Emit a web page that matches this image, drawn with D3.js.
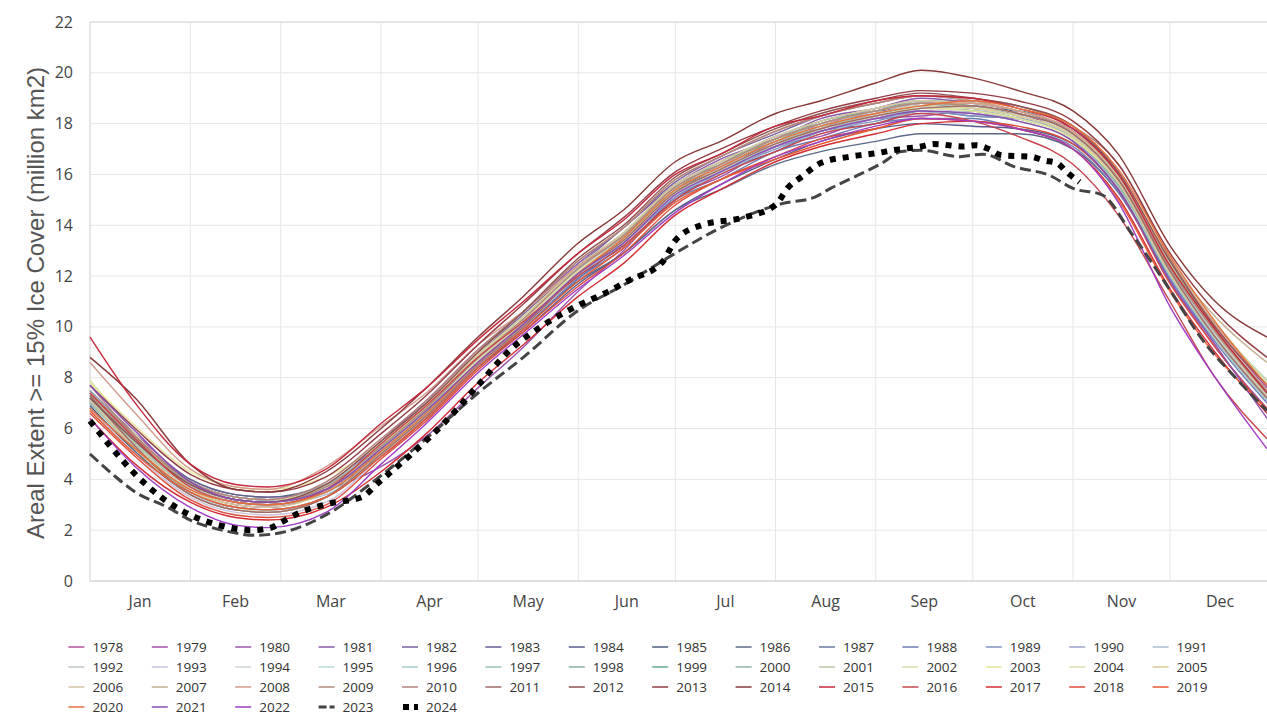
<!DOCTYPE html>
<html>
<head>
<meta charset="utf-8">
<script src="https://cdn.jsdelivr.net/npm/d3@7"></script>
<style>
  body { margin: 0; background: #fff; }
  #DataViz { width: 1267px; height: 717px; }
</style>
</head>
<body>
<div id="DataViz"></div>
<script>
// day-of-year sample points used for 1978-2022
const days = [1, 15, 32, 46, 56, 74, 91, 105, 121, 135, 152, 166, 182, 196, 213, 227, 244, 258, 274, 288, 305, 319, 335, 349, 365];

const y1978 = [7.4, 5.6, 3.9, 3.3, 3.2, 3.6, 4.9, 6.4, 8.4, 9.9, 12.0, 13.5, 15.6, 16.3, 17.5, 17.9, 18.6, 18.8, 18.9, 18.4, 17.8, 16.0, 12.6, 10.0, 7.6];
const y1979 = [7.1, 5.5, 3.8, 3.2, 3.1, 3.7, 5.2, 6.7, 8.7, 10.3, 12.2, 13.4, 15.2, 16.4, 17.2, 18.0, 18.4, 18.8, 18.6, 18.4, 17.4, 15.6, 12.2, 9.8, 7.4];
const y1980 = [7.5, 5.8, 4.0, 3.4, 3.3, 3.6, 4.5, 5.7, 7.6, 9.2, 11.4, 13.0, 15.1, 15.9, 17.1, 17.5, 18.2, 18.3, 18.5, 18.2, 17.5, 15.5, 11.8, 9.2, 6.8];
const y1981 = [6.8, 5.2, 3.6, 3.0, 2.9, 3.6, 5.5, 7.1, 9.1, 10.6, 12.5, 13.9, 15.6, 16.6, 17.4, 18.2, 18.6, 19.0, 18.8, 18.5, 17.6, 15.9, 12.3, 9.6, 7.1];
const y1982 = [7.0, 5.5, 3.9, 3.3, 3.2, 3.8, 5.3, 6.8, 8.9, 10.5, 12.4, 13.9, 15.7, 16.7, 17.6, 18.3, 18.8, 19.1, 18.9, 18.7, 17.8, 16.1, 12.5, 9.9, 7.5];
const y1983 = [7.2, 5.4, 3.7, 3.1, 3.0, 3.5, 5.0, 6.5, 8.5, 10.0, 11.9, 13.3, 15.4, 16.2, 17.3, 17.8, 18.5, 18.6, 18.7, 18.3, 17.5, 15.7, 12.2, 9.6, 7.2];
const y1984 = [7.2, 5.3, 3.5, 2.9, 2.8, 3.3, 4.9, 6.4, 8.4, 9.8, 11.7, 12.9, 14.6, 15.6, 16.6, 17.3, 17.8, 18.0, 17.9, 17.8, 17.2, 15.4, 12.0, 9.5, 7.1];
const y1985 = [6.9, 5.1, 3.4, 2.8, 2.7, 3.3, 5.2, 6.7, 8.7, 10.2, 12.2, 13.5, 15.3, 16.3, 17.1, 17.9, 18.3, 18.7, 18.6, 18.5, 17.6, 15.8, 12.3, 9.7, 7.3];
const y1986 = [7.2, 5.6, 4.0, 3.4, 3.3, 3.8, 5.3, 6.7, 8.6, 10.0, 11.8, 12.9, 14.6, 15.4, 16.4, 16.9, 17.3, 17.6, 17.6, 17.6, 17.0, 15.3, 12.0, 9.6, 7.2];
const y1987 = [7.3, 5.6, 3.9, 3.3, 3.2, 3.7, 5.1, 6.6, 8.6, 10.1, 12.0, 13.2, 15.0, 16.1, 16.9, 17.7, 18.0, 18.5, 18.3, 18.2, 17.4, 15.6, 12.3, 9.8, 7.4];
const y1988 = [7.2, 5.4, 3.7, 3.1, 3.0, 3.5, 5.0, 6.4, 8.5, 9.9, 11.9, 13.1, 15.0, 15.8, 16.9, 17.4, 18.0, 18.2, 18.2, 17.8, 17.1, 15.3, 11.9, 9.4, 7.0];
const y1989 = [7.0, 5.4, 3.8, 3.2, 3.1, 3.6, 5.1, 6.6, 8.6, 10.0, 12.0, 13.3, 15.1, 16.1, 17.0, 17.7, 18.1, 18.5, 18.3, 18.2, 17.5, 15.7, 12.1, 9.6, 7.2];
const y1990 = [7.2, 5.5, 3.8, 3.2, 3.1, 3.7, 5.3, 6.8, 8.8, 10.3, 12.2, 13.5, 15.4, 16.3, 17.3, 17.8, 18.4, 18.6, 18.6, 18.3, 17.4, 15.6, 12.2, 9.7, 7.3];
const y1991 = [7.1, 5.4, 3.7, 3.1, 3.0, 3.4, 5.0, 6.5, 8.5, 10.0, 12.0, 13.3, 15.2, 16.0, 17.1, 17.6, 18.2, 18.4, 18.5, 18.2, 17.5, 15.8, 12.4, 9.8, 7.4];
const y1992 = [7.3, 5.4, 3.5, 2.9, 2.8, 3.3, 5.1, 6.6, 8.6, 10.1, 12.2, 13.6, 15.5, 16.3, 17.4, 17.9, 18.5, 18.7, 18.6, 18.3, 17.5, 15.7, 12.1, 9.5, 7.1];
const y1993 = [6.8, 5.0, 3.3, 2.7, 2.6, 3.1, 4.9, 6.5, 8.5, 10.0, 12.1, 13.4, 15.2, 16.3, 17.1, 17.8, 18.2, 18.6, 18.4, 18.2, 17.4, 15.6, 12.1, 9.6, 7.2];
const y1994 = [7.2, 5.5, 3.8, 3.2, 3.1, 3.7, 5.3, 6.8, 8.8, 10.3, 12.3, 13.6, 15.5, 16.4, 17.4, 18.0, 18.5, 18.8, 18.7, 18.4, 17.6, 15.8, 12.3, 9.7, 7.3];
const y1995 = [7.1, 5.4, 3.7, 3.1, 3.0, 3.6, 5.4, 6.9, 8.9, 10.4, 12.3, 13.6, 15.6, 16.4, 17.5, 18.0, 18.6, 18.8, 18.6, 18.3, 17.5, 15.7, 12.2, 9.6, 7.2];
const y1996 = [7.1, 5.5, 3.9, 3.3, 3.2, 3.8, 5.3, 6.7, 8.7, 10.2, 12.1, 13.4, 15.3, 16.1, 17.2, 17.7, 18.3, 18.5, 18.4, 18.1, 17.3, 15.5, 12.0, 9.5, 7.1];
const y1997 = [7.0, 5.2, 3.5, 2.9, 2.8, 3.3, 5.0, 6.6, 8.6, 10.1, 12.1, 13.4, 15.3, 16.2, 17.2, 17.9, 18.3, 18.7, 18.5, 18.2, 17.4, 15.6, 12.1, 9.6, 7.2];
const y1998 = [7.2, 5.5, 3.8, 3.2, 3.1, 3.7, 5.3, 6.8, 8.8, 10.3, 12.4, 13.7, 15.6, 16.5, 17.5, 18.1, 18.6, 18.9, 18.7, 18.4, 17.6, 15.8, 12.3, 9.8, 7.4];
const y1999 = [7.4, 5.6, 3.9, 3.3, 3.2, 3.7, 5.2, 6.7, 8.7, 10.2, 12.3, 13.6, 15.4, 16.5, 17.3, 18.1, 18.5, 18.9, 18.8, 18.5, 17.7, 16.0, 12.5, 9.9, 7.5];
const y2000 = [7.5, 5.7, 3.9, 3.3, 3.2, 3.7, 5.2, 6.7, 8.7, 10.2, 12.3, 13.6, 15.5, 16.4, 17.4, 18.0, 18.5, 18.8, 18.5, 18.2, 17.4, 15.6, 12.1, 9.6, 7.2];
const y2001 = [7.1, 5.4, 3.7, 3.1, 3.0, 3.5, 5.1, 6.6, 8.6, 10.1, 12.1, 13.4, 15.3, 16.2, 17.2, 17.8, 18.3, 18.6, 18.6, 18.4, 17.6, 15.9, 12.5, 10.1, 7.9];
const y2002 = [7.9, 5.8, 3.6, 2.9, 2.7, 3.3, 5.0, 6.5, 8.5, 10.0, 12.1, 13.4, 15.3, 16.2, 17.2, 17.8, 18.3, 18.6, 18.6, 18.4, 17.6, 16.0, 12.7, 10.2, 7.8];
const y2003 = [7.8, 6.1, 4.3, 3.7, 3.6, 4.1, 5.4, 6.9, 8.9, 10.3, 12.2, 13.4, 15.3, 16.2, 17.2, 17.8, 18.3, 18.6, 18.5, 18.2, 17.4, 15.7, 12.4, 9.9, 7.5];
const y2004 = [7.4, 5.7, 3.9, 3.3, 3.2, 3.7, 5.2, 6.7, 8.7, 10.2, 12.2, 13.5, 15.4, 16.3, 17.3, 17.9, 18.4, 18.7, 18.6, 18.3, 17.5, 15.7, 12.1, 9.6, 7.2];
const y2005 = [7.1, 5.3, 3.6, 3.0, 2.9, 3.5, 5.4, 6.9, 8.9, 10.4, 12.4, 13.7, 15.6, 16.5, 17.5, 18.1, 18.6, 18.9, 18.6, 18.3, 17.5, 15.7, 12.1, 9.6, 7.2];
const y2006 = [7.1, 5.2, 3.4, 2.8, 2.7, 3.3, 5.3, 6.8, 8.8, 10.3, 12.4, 13.7, 15.6, 16.5, 17.5, 18.1, 18.6, 18.9, 18.8, 18.5, 17.7, 15.9, 12.4, 9.8, 7.3];
const y2007 = [7.3, 5.6, 3.8, 3.2, 3.1, 3.8, 5.5, 7.0, 9.0, 10.6, 12.6, 13.9, 15.8, 16.7, 17.7, 18.3, 18.8, 19.1, 18.9, 18.5, 17.7, 16.0, 12.6, 10.4, 8.6];
const y2008 = [8.6, 6.6, 4.4, 3.7, 3.6, 4.5, 6.1, 7.4, 9.3, 10.6, 12.4, 13.6, 15.5, 16.4, 17.4, 18.0, 18.5, 18.8, 18.8, 18.5, 17.7, 16.0, 12.6, 10.1, 7.7];
const y2009 = [7.7, 5.7, 3.9, 3.2, 3.1, 3.7, 5.3, 6.8, 8.8, 10.3, 12.3, 13.6, 15.5, 16.4, 17.4, 18.0, 18.5, 18.8, 18.7, 18.4, 17.6, 15.8, 12.3, 9.8, 7.4];
const y2010 = [7.4, 5.7, 3.9, 3.3, 3.2, 3.9, 5.6, 7.1, 9.1, 10.6, 12.6, 13.9, 15.8, 16.7, 17.7, 18.3, 18.8, 19.1, 19.0, 18.7, 17.9, 16.4, 12.7, 9.9, 7.5];
const y2011 = [7.3, 5.3, 3.4, 2.8, 2.7, 3.3, 5.0, 6.5, 8.5, 10.0, 12.1, 13.4, 15.3, 16.2, 17.2, 17.8, 18.3, 18.6, 18.7, 18.4, 17.6, 15.8, 12.2, 9.6, 7.2];
const y2012 = [7.2, 5.5, 3.8, 3.2, 3.1, 3.8, 5.5, 7.0, 9.0, 10.6, 12.7, 14.0, 15.9, 16.8, 17.8, 18.4, 18.9, 19.2, 19.0, 18.7, 17.9, 16.1, 12.6, 10.0, 7.7];
const y2013 = [7.7, 6.0, 4.2, 3.6, 3.5, 4.1, 5.8, 7.3, 9.3, 10.9, 12.9, 14.3, 16.1, 17.0, 17.9, 18.5, 19.0, 19.3, 19.2, 18.9, 18.1, 16.4, 12.9, 10.6, 8.8];
const y2014 = [8.8, 7.2, 4.6, 3.6, 3.5, 4.3, 6.0, 7.6, 9.6, 11.2, 13.3, 14.6, 16.5, 17.3, 18.4, 18.9, 19.6, 20.1, 19.8, 19.3, 18.5, 16.8, 13.2, 11.0, 9.6];
const y2015 = [9.6, 7.0, 4.6, 3.8, 3.7, 4.4, 6.2, 7.6, 9.5, 11.0, 12.9, 14.2, 16.0, 16.8, 17.9, 18.3, 18.9, 19.1, 19.0, 18.6, 17.8, 16.0, 12.4, 9.9, 7.4];
const y2016 = [7.4, 5.6, 3.7, 3.1, 3.0, 3.6, 5.4, 6.9, 8.8, 10.2, 12.0, 13.2, 15.0, 16.0, 16.9, 17.6, 18.0, 18.4, 18.1, 17.5, 16.4, 14.4, 11.0, 8.0, 5.6];
const y2017 = [6.4, 4.6, 3.1, 2.5, 2.4, 2.9, 4.3, 5.8, 7.8, 9.3, 11.2, 12.5, 14.4, 15.4, 16.5, 17.1, 17.6, 18.0, 18.1, 17.8, 17.0, 15.1, 11.5, 9.0, 6.6];
const y2018 = [6.6, 4.9, 3.2, 2.6, 2.5, 3.0, 4.8, 6.3, 8.3, 9.8, 11.6, 12.9, 14.8, 15.8, 16.7, 17.4, 17.8, 18.2, 18.1, 17.9, 17.2, 15.4, 11.7, 9.2, 6.7];
const y2019 = [6.7, 5.0, 3.5, 2.9, 2.8, 3.3, 4.9, 6.4, 8.4, 9.9, 11.8, 13.1, 14.9, 15.8, 16.6, 17.2, 17.8, 18.2, 18.1, 17.8, 17.0, 15.0, 11.4, 8.9, 6.8];
const y2020 = [6.8, 5.2, 3.6, 3.1, 3.0, 3.5, 5.1, 6.6, 8.6, 10.1, 12.1, 13.5, 15.4, 16.3, 17.3, 17.9, 18.4, 18.7, 18.9, 18.6, 17.9, 16.2, 12.8, 10.2, 7.7];
const y2021 = [7.7, 5.9, 3.9, 3.2, 3.1, 3.6, 5.2, 6.7, 8.6, 10.1, 12.1, 13.3, 15.2, 16.1, 17.1, 17.7, 18.2, 18.5, 18.4, 18.1, 17.3, 15.4, 11.8, 9.3, 6.4];
const y2022 = [6.4, 4.5, 2.9, 2.2, 2.1, 2.7, 4.6, 6.2, 8.2, 9.7, 11.5, 12.8, 14.5, 15.6, 16.7, 17.3, 17.9, 18.2, 18.1, 17.8, 17.0, 14.9, 10.8, 8.0, 5.2];

// 2023 and 2024 read more densely
const days2023 = [1, 8, 15, 25, 32, 42, 52, 60, 74, 90, 104, 121, 135, 152, 166, 182, 196, 215, 225, 230, 239, 246, 252, 258, 270, 277, 287, 298, 305, 314, 323, 335, 345, 356, 365];
const y2023 = [5.0, 4.2, 3.5, 2.9, 2.4, 2.0, 1.8, 1.9, 2.6, 4.05, 5.5, 7.4, 8.8, 10.65, 11.65, 12.9, 13.9, 14.85, 15.1, 15.45, 16.0, 16.45, 16.9, 16.95, 16.7, 16.8, 16.3, 15.95, 15.45, 15.2, 13.7, 11.45, 9.5, 7.9, 6.7];
const days2024 = [1, 7, 15, 23, 32, 41, 51, 57, 60, 66, 75, 85, 90, 100, 110, 121, 131, 141, 152, 159, 168, 178, 182, 190, 203, 213, 217, 221, 227, 236, 245, 249, 258, 262, 271, 275, 279, 283, 292, 296, 300, 303, 307];
const y2024 = [6.3, 5.35, 4.2, 3.3, 2.6, 2.2, 2.0, 2.1, 2.3, 2.7, 3.05, 3.3, 3.85, 4.95, 6.15, 7.7, 9.1, 10.05, 10.85, 11.25, 11.85, 12.55, 13.4, 14.0, 14.3, 14.8, 15.5, 15.9, 16.45, 16.7, 16.85, 16.95, 17.1, 17.2, 17.1, 17.15, 17.0, 16.75, 16.7, 16.55, 16.45, 16.1, 15.7];

const years = d3.range(1978, 2025);
const yearColors = [
  "#b8509e", "#a64fa6", "#9c55b0", "#8a58aa", "#78609e", "#685c96", "#585a8c", "#4c5e7e",
  "#5c6a88", "#6a7aa0", "#6a7cb4", "#7e94bc", "#9ca2cc", "#a8bcd4", "#bcc4cc", "#cac2da",
  "#cad4d4", "#b8dada", "#a6cccc", "#94c2b8", "#86b2a0", "#68aa90", "#98b2a8", "#b8caa8",
  "#d6deaa", "#e6e698", "#e0dcb0", "#d8cc98", "#d2c6a4", "#c2ae8c", "#d49c8c", "#b08c7a",
  "#b4827a", "#a06a6a", "#8e5252", "#943c44", "#883838", "#c4283c", "#c8444c", "#d42c34",
  "#dc4c3c", "#e45834", "#e4703c", "#8a4eb0", "#a03cc4", "#444444", "#000000"
];
const monthNames = ["Jan", "Feb", "Mar", "Apr", "May", "Jun", "Jul", "Aug", "Sep", "Oct", "Nov", "Dec"];
const monthStarts = [1, 32, 60, 91, 121, 152, 182, 213, 244, 274, 305, 335, 366];
const yTicks = [0, 2, 4, 6, 8, 10, 12, 14, 16, 18, 20, 22];

const seriesValues = [y1978, y1979, y1980, y1981, y1982, y1983, y1984, y1985, y1986, y1987, y1988,
  y1989, y1990, y1991, y1992, y1993, y1994, y1995, y1996, y1997, y1998, y1999, y2000, y2001,
  y2002, y2003, y2004, y2005, y2006, y2007, y2008, y2009, y2010, y2011, y2012, y2013, y2014,
  y2015, y2016, y2017, y2018, y2019, y2020, y2021, y2022, y2023, y2024];

let series = years.map(function(yr, i) {
  let dd = days;
  if (yr === 2023) dd = days2023;
  if (yr === 2024) dd = days2024;
  return {
    year: yr,
    color: yearColors[i],
    points: seriesValues[i].map(function(v, j) { return {day: dd[j], val: v}; })
  };
});

var margin = {top: 22, right: 0, bottom: 136, left: 90},
    width = 1267 - margin.left - margin.right,
    height = 717 - margin.top - margin.bottom;

var root = d3.select("#DataViz")
  .append("svg")
    .attr("width", 1267)
    .attr("height", 717);
var svg = root.append("g")
    .attr("transform", "translate(" + margin.left + "," + margin.top + ")");

let x = d3.scaleLinear().domain([1, 365]).range([0, width]);
let y = d3.scaleLinear().domain([0, 22]).range([height, 0]);

// grid
svg.append("g")
  .selectAll("line")
  .data(yTicks)
  .enter().append("line")
    .attr("x1", 0).attr("x2", width)
    .attr("y1", d => y(d)).attr("y2", d => y(d))
    .attr("stroke", d => d === 22 ? "#cccccc" : "#e6e6e6")
    .attr("stroke-width", 1);
svg.append("g")
  .selectAll("line")
  .data(monthStarts.slice(0, 12))
  .enter().append("line")
    .attr("x1", d => x(d)).attr("x2", d => x(d))
    .attr("y1", 0).attr("y2", height)
    .attr("stroke", (d, i) => i === 0 ? "#cccccc" : "#e6e6e6")
    .attr("stroke-width", 1);
svg.append("line")
  .attr("x1", 0).attr("x2", width)
  .attr("y1", height).attr("y2", height)
  .attr("stroke", "#cccccc");

// y tick labels
svg.append("g")
  .selectAll("text")
  .data(yTicks)
  .enter().append("text")
    .attr("x", -17)
    .attr("y", d => y(d) + 5.5)
    .attr("text-anchor", "end")
    .style("font-family", "'Open Sans', sans-serif")
    .style("font-size", "16px")
    .style("fill", "#444")
    .text(d => d);

// month labels
svg.append("g")
  .selectAll("text")
  .data(monthNames)
  .enter().append("text")
    .attr("x", (d, i) => (x(monthStarts[i]) + x(monthStarts[i + 1])) / 2)
    .attr("y", height + 26)
    .attr("text-anchor", "middle")
    .style("font-family", "'Open Sans', sans-serif")
    .style("font-size", "16px")
    .style("fill", "#444")
    .text(d => d);

// y axis title
root.append("text")
  .attr("transform", "rotate(-90)")
  .attr("x", -303)
  .attr("y", 44)
  .style("text-anchor", "middle")
  .style("font-family", "'Liberation Sans', Arial, sans-serif")
  .style("font-size", "24px")
  .style("fill", "#555")
  .text("Areal Extent >= 15% Ice Cover (million km2)");

// lines
let line = d3.line()
  .x(d => x(d.day))
  .y(d => y(d.val))
  .curve(d3.curveMonotoneX);

svg.append("g")
  .selectAll("path")
  .data(series)
  .enter().append("path")
    .attr("d", d => line(d.points))
    .attr("fill", "none")
    .attr("stroke", d => d.color)
    .attr("stroke-width", d => d.year === 2024 ? 6 : (d.year === 2023 ? 3 : 1.4))
    .attr("stroke-dasharray", d => d.year === 2024 ? "6,7" : (d.year === 2023 ? "11,5" : null));

// legend
let legend = root.append("g");
let items = legend.selectAll("g")
  .data(series)
  .enter().append("g")
    .attr("transform", (d, i) => "translate(" + (68.4 + (i % 14) * 83.4) + "," + (647 + Math.floor(i / 14) * 20) + ")");
items.append("line")
  .attr("x1", d => d.year === 2024 ? 1 : 0)
  .attr("x2", 16)
  .attr("y1", 0).attr("y2", 0)
  .attr("stroke", d => d.color)
  .attr("stroke-width", d => d.year === 2024 ? 6 : (d.year === 2023 ? 3 : 2))
  .attr("stroke-dasharray", d => d.year === 2024 ? "6,5" : (d.year === 2023 ? "8,3" : null))
  .attr("stroke-opacity", d => d.year >= 2023 ? 1 : 0.75);
items.append("text")
  .attr("x", 24)
  .attr("y", 4.5)
  .style("font-family", "'Open Sans', sans-serif")
  .style("font-size", "13.5px")
  .style("fill", "#333")
  .text(d => d.year);
</script>
</body>
</html>
